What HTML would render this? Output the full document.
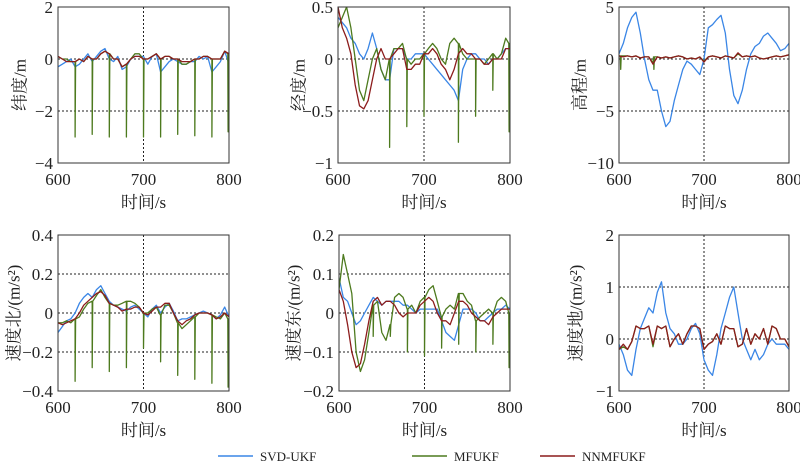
<!DOCTYPE html>
<html><head><meta charset="utf-8"><style>
body{margin:0;background:#fff;width:800px;height:467px;overflow:hidden}
svg text{font-family:"Liberation Serif","Noto Serif CJK SC","Noto Sans CJK SC",serif;fill:#222}
</style></head><body>
<svg id="c" width="800" height="467" xmlns="http://www.w3.org/2000/svg"></svg>
<script>
const times=[600,605,610,615,620,625,630,635,640,645,650,655,660,665,670,675,680,685,690,695,700,705,710,715,720,725,730,735,740,745,750,755,760,765,770,775,780,785,790,795,800];
const xTicks=[600,700,800];
const seriesNames=["SVD-UKF","MFUKF","NNMFUKF"];
const colors=["#3a86e6","#4d7a1e","#8c1c1c"];

const latBlue=[-0.3,-0.2,-0.1,0,-0.3,-0.2,0,0.2,-0.1,0.1,0.3,0.4,0,-0.1,0.1,-0.4,-0.3,0,0.1,0.1,0.1,-0.2,0.1,0.2,-0.5,-0.3,-0.1,0,-0.1,-0.2,-0.2,-0.1,-0.1,0.1,0,0.1,-0.5,-0.3,-0.1,0.3,-0.2];
const latGreen=[0.1,0,0,-0.1,-0.1,0,-0.1,0.1,0,0,0.2,0.3,0.2,0,0,-0.3,-0.2,0,0.2,0.2,0,0,0.1,0.2,0,0.1,0.1,0,0,-0.2,-0.2,-0.1,0,0,0.1,0.1,0,0,0,0.3,0.2];
const latRed=[0.1,0,-0.1,-0.1,-0.1,0,-0.1,0.1,0,0,0.2,0.3,0.2,0,0,-0.3,-0.2,0,0.1,0.1,0,0,0.1,0.2,0,0.1,0.1,0,0,-0.1,-0.1,-0.1,0,0,0.1,0.1,0,0,0,0.3,0.2];
const latSpikeT=[620,640,660,680,700,720,740,760,780,799];
const latSpikeV=[-3,-2.9,-3,-3,-3,-3,-2.9,-2.95,-3,-2.8];

const lonBlue=[0.4,0.35,0.3,0.2,0.15,0.05,0,0.1,0.25,0.1,-0.1,-0.2,-0.2,0.1,0.1,0.1,0,0,0.05,0.05,0.05,0,-0.05,-0.1,-0.15,-0.2,-0.25,-0.3,-0.4,-0.1,0,0.05,0.05,0,0,-0.05,0,0,0.05,0.1,0.1];
const lonGreen=[0.3,0.4,0.5,0.3,0,-0.3,-0.4,-0.2,0,0.1,-0.1,-0.2,0,0.1,0.1,0.15,0,-0.05,0,0,0.05,0.1,0.15,0.1,0,-0.05,0.15,0.2,0.15,0.05,0,0,0,0,-0.05,0,0.05,0,0.05,0.2,0.15];
const lonRed=[0.5,0.3,0.2,0.05,-0.25,-0.45,-0.48,-0.4,-0.2,0,0.1,0,0,0.05,0.1,0.1,-0.1,-0.1,-0.05,-0.05,0.05,0.05,0.1,0.05,-0.05,-0.1,-0.2,-0.1,0.05,0.1,0.05,0.05,0,0,-0.05,-0.05,0,0,0,0.1,0.1];
const lonSpikeT=[660,680,700,740,760,780,799];
const lonSpikeV=[-0.85,-0.65,-0.55,-0.8,-0.55,-0.3,-0.7];

const altBlue=[0.5,1.5,3,4,4.5,2.5,0,-2,-3,-3,-5,-6.5,-6,-4,-2.5,-1,-0.2,-0.5,-1,-1.5,0,3,3.3,3.8,4.2,2.5,-1,-3.5,-4.3,-3,-1,0.5,1.2,1.5,2.2,2.5,2,1.5,0.8,1,1.5];
const altGreen=[0.3,0.3,0.3,0.2,0.3,0.1,0.2,0.2,-0.4,0.2,0.1,0.2,0.1,0.2,0.3,0.2,0,0.1,0,0.2,-0.2,0.2,0.3,0.2,0.1,0.3,0.2,0.1,0.5,0.2,0.3,0.2,0.3,0.1,0,0.1,0.2,0.3,0.2,0.3,0.4];
const altRed=[0.3,0.2,0.3,0.2,0.3,0.1,0.2,0.2,-0.5,0.2,0.1,0.2,0.1,0.2,0.3,0.2,0,0.1,0,0.2,-0.3,0.2,0.3,0.2,0.1,0.3,0.2,0.1,0.6,0.2,0.3,0.2,0.3,0.1,0,0.1,0.2,0.3,0.2,0.3,0.4];
const altSpikeT=[602,641];
const altSpikeV=[-1,-1];

const vnBlue=[-0.1,-0.07,-0.04,-0.03,0,0.05,0.08,0.1,0.08,0.12,0.14,0.1,0.06,0.04,0.03,0.02,0.01,0.03,0.04,0.02,0,-0.02,0.02,0.04,0,0.03,0.05,0.01,-0.04,-0.03,-0.03,-0.02,-0.01,0,0.01,0,-0.01,-0.03,-0.01,0.03,-0.02];
const vnGreen=[-0.05,-0.05,-0.04,-0.05,-0.03,-0.02,0.02,0.05,0.06,0.09,0.12,0.08,0.05,0.04,0.04,0.05,0.06,0.06,0.05,0.03,0,0,0.02,0.03,-0.01,0.04,0.04,0,-0.05,-0.08,-0.06,-0.04,-0.02,0,0,0,-0.01,-0.02,-0.03,0,-0.03];
const vnRed=[-0.05,-0.06,-0.05,-0.04,-0.03,0,0.04,0.06,0.08,0.1,0.11,0.09,0.05,0.04,0.03,0.01,0.02,0.02,0.03,0.03,0,-0.01,0.01,0.03,0.03,0.05,0.05,0,-0.04,-0.06,-0.04,-0.03,-0.01,0,0,0,-0.01,-0.03,-0.02,0,-0.02];
const vnSpikeT=[620,640,660,680,700,720,740,760,780,799];
const vnSpikeV=[-0.35,-0.28,-0.3,-0.28,-0.18,-0.25,-0.32,-0.34,-0.36,-0.38];

const veBlue=[0.09,0.04,0.03,0,-0.03,-0.02,0,0.02,0.04,0.03,0.02,0.03,0.03,0.03,0.03,0.02,0.02,0.01,0,0.01,0.01,0.01,0.01,0.01,-0.02,-0.05,-0.06,-0.07,-0.03,0.01,0.01,0.01,0,-0.02,-0.02,-0.01,0,0.01,0.01,0.02,0.01];
const veGreen=[0.06,0.15,0.1,0.05,-0.1,-0.15,-0.12,-0.05,0.02,0.03,-0.05,-0.07,-0.03,0.04,0.05,0.04,0.01,0.02,0,0.03,0.04,0.06,0.07,0.03,-0.01,0.01,0.02,0.01,0.05,0.05,0.03,0.02,-0.02,-0.01,0,0.01,0,0.03,0.04,0.03,0];
const veRed=[0.06,0.03,-0.03,-0.1,-0.14,-0.13,-0.08,-0.02,0.03,0.04,0.02,0.03,0.03,0.02,0,-0.01,0,0,0,0.02,0.03,0.04,0.03,0,-0.02,-0.02,-0.03,0,0.03,0.03,0.02,0,-0.01,-0.02,-0.02,-0.03,-0.01,0,0.01,0.01,0.01];
const veSpikeT=[640,660,680,700,720,740,760,780,799];
const veSpikeV=[-0.06,-0.06,-0.1,-0.11,-0.09,-0.08,-0.1,-0.08,-0.14];

const vdBlue=[-0.1,-0.3,-0.6,-0.7,-0.2,0.2,0.4,0.6,0.5,0.9,1.1,0.5,0.2,0.1,-0.1,-0.1,0,0.2,0.3,0.1,-0.4,-0.6,-0.7,-0.3,0.2,0.5,0.8,1.0,0.5,0,-0.2,-0.4,-0.2,-0.4,-0.3,-0.1,0,-0.1,-0.1,-0.1,-0.2];
const vdGreen=[-0.2,-0.15,-0.2,-0.05,0.25,0.2,0.2,0.25,-0.15,0.25,0.2,0.25,-0.15,0,0.1,-0.1,0.1,0.25,0.25,0.2,-0.2,-0.1,-0.05,0.1,-0.1,0.25,0.2,0.2,-0.15,-0.1,0.2,-0.1,0.1,0,0.2,-0.1,0.25,0.2,0,0,-0.15];
const vdRed=[-0.2,-0.1,-0.2,-0.05,0.25,0.2,0.2,0.25,-0.1,0.25,0.2,0.25,-0.15,0,0.1,-0.1,0.1,0.25,0.25,0.2,-0.2,-0.1,-0.05,0.1,-0.1,0.25,0.2,0.2,-0.15,-0.1,0.2,-0.1,0.1,0,0.2,-0.1,0.25,0.2,0,0,-0.15];

const latTicks=[2,0,-2,-4], lonTicks=[0.5,0,-0.5,-1], altTicks=[5,0,-5,-10];
const vnTicks=[0.4,0.2,0,-0.2,-0.4], veTicks=[0.2,0.1,0,-0.1,-0.2], vdTicks=[2,1,0,-1];

const NS="http://www.w3.org/2000/svg";
const svg=document.getElementById('c');
function mk(tag,attrs,parent){const e=document.createElementNS(NS,tag);for(const k in attrs)e.setAttribute(k,attrs[k]);(parent||svg).appendChild(e);return e;}
function fmt(v){return (v<0?'\u2212':'')+Math.abs(v);}

const panels=[
 {name:'latitude',title:'纬度/m',x0:58,x1:229,y0:7,y1:163,ticks:latTicks,s:[latBlue,latGreen,latRed],st:latSpikeT,sv:latSpikeV,lx:20},
 {name:'longitude',title:'经度/m',x0:338,x1:510,y0:7,y1:163,ticks:lonTicks,s:[lonBlue,lonGreen,lonRed],st:lonSpikeT,sv:lonSpikeV,lx:299},
 {name:'altitude',title:'高程/m',x0:619,x1:789,y0:7,y1:163,ticks:altTicks,s:[altBlue,altGreen,altRed],st:altSpikeT,sv:altSpikeV,lx:580},
 {name:'velocity-north',title:'速度北/(m/s²)',x0:58,x1:229,y0:235,y1:391,ticks:vnTicks,s:[vnBlue,vnGreen,vnRed],st:vnSpikeT,sv:vnSpikeV,lx:14},
 {name:'velocity-east',title:'速度东/(m/s²)',x0:339,x1:510,y0:235,y1:391,ticks:veTicks,s:[veBlue,veGreen,veRed],st:veSpikeT,sv:veSpikeV,lx:294},
 {name:'velocity-down',title:'速度地/(m/s²)',x0:619,x1:789,y0:235,y1:391,ticks:vdTicks,s:[vdBlue,vdGreen,vdRed],st:[],sv:[],lx:576}
];

panels.forEach(p=>{
  const g=mk('g',{});
  
  
  const ymax=p.ticks[0], ymin=p.ticks[p.ticks.length-1];
  const xs=t=>p.x0+(t-600)/200*(p.x1-p.x0);
  const ys=v=>p.y1-(v-ymin)/(ymax-ymin)*(p.y1-p.y0);
  const cp=mk('clipPath',{id:'cp-'+p.name},g);
  mk('rect',{x:p.x0,y:p.y0,width:p.x1-p.x0,height:p.y1-p.y0},cp);
  p.ticks.forEach((v,i)=>{
    if(i>0&&i<p.ticks.length-1){const l=mk('line',{x1:p.x0,x2:p.x1,y1:ys(v),y2:ys(v),stroke:'#222','stroke-width':1,'stroke-dasharray':'2,2'},g);
      }
    const t=mk('text',{x:p.x0-5,y:ys(v)+6,'text-anchor':'end','font-size':17},g);t.textContent=fmt(v);
    
  });
  xTicks.forEach((v,i)=>{
    if(i==1){const l=mk('line',{x1:xs(v),x2:xs(v),y1:p.y0,y2:p.y1,stroke:'#222','stroke-width':1,'stroke-dasharray':'2,2'},g);
      }
    const t=mk('text',{x:xs(v),y:p.y1+22,'text-anchor':'middle','font-size':17},g);t.textContent=v;
    
  });
  const xt=mk('text',{x:(p.x0+p.x1)/2,y:p.y1+45,'text-anchor':'middle','font-size':17},g);xt.textContent='时间/s';
  
  const cy=(p.y0+p.y1)/2;
  const yt=mk('text',{x:p.lx,y:cy,'text-anchor':'middle','font-size':17,transform:`rotate(-90 ${p.lx} ${cy})`,'dominant-baseline':'central'},g);yt.textContent=p.title;
  
  const lg=mk('g',{'clip-path':`url(#cp-${p.name})`},g);
  p.s.forEach((arr,si)=>{
    let pts=times.map((t,i)=>[t,arr[i]]);
    if(si==1){
      p.st.forEach((t,k)=>{
        let j=times.findIndex(x=>x>=t); if(j<0)j=times.length-1;
        const b=arr[j];
        pts.push([t-0.4,b],[t,p.sv[k]],[t+0.6,b]);
      });
      pts.sort((a,b)=>a[0]-b[0]);
    }
    const d=pts.map((q,i)=>(i?'L':'M')+xs(q[0]).toFixed(1)+' '+ys(q[1]).toFixed(1)).join(' ');
    const path=mk('path',{d:d,fill:'none',stroke:colors[si],'stroke-width':1.3,'stroke-linejoin':'round'},lg);
    
    
  });
  const fr=mk('rect',{x:p.x0,y:p.y0,width:p.x1-p.x0,height:p.y1-p.y0,fill:'none',stroke:'#333','stroke-width':1},g);
  
});

const legX=[[218,253,260],[412,447,454],[540,575,582]];
const lgG=mk('g',{});


seriesNames.forEach((n,i)=>{
  const l=mk('line',{x1:legX[i][0],x2:legX[i][1],y1:456,y2:456,stroke:colors[i],'stroke-width':1.5},lgG);
  
  const t=mk('text',{x:legX[i][2],y:461,'font-size':13},lgG);t.textContent=n;
  
});
</script>
</body></html>
